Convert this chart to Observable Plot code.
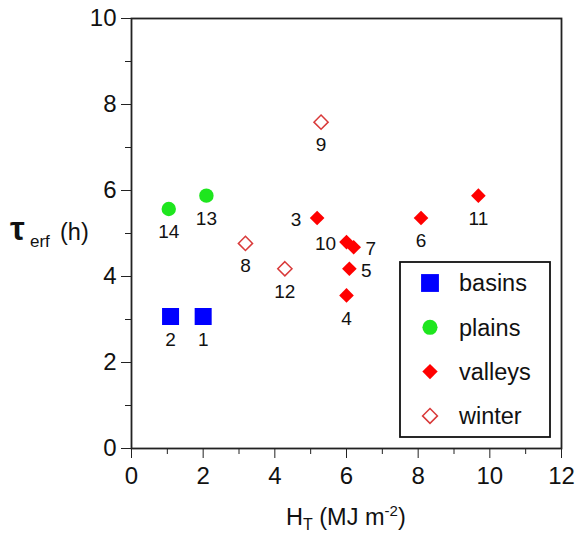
<!DOCTYPE html>
<html><head><meta charset="utf-8">
<script src="https://cdn.jsdelivr.net/npm/d3@7"></script>
<script src="https://cdn.jsdelivr.net/npm/@observablehq/plot@0.6"></script>
<style>body{margin:0;background:#fff} #chart{width:576px;height:536px}</style>
</head><body><div id="chart"></div>
<script>
// ---- data ----
const ids    = ["1","2","3","4","5","6","7","8","9","10","11","12","13","14"];
const groups = ["basins","basins","valleys","valleys","valleys","valleys","valleys","winter","winter","valleys","valleys","winter","plains","plains"];
const hT     = [2.0, 1.09, 5.18, 6.0, 6.08, 8.08, 6.2, 3.18, 5.29, 6.0, 9.68, 4.28, 2.09, 1.04];
const tau    = [3.07, 3.07, 5.36, 3.56, 4.18, 5.36, 4.68, 4.77, 7.59, 4.8, 5.88, 4.18, 5.88, 5.57];
const labelSide = ["below","below","left","below","right","below","right","below","below","left","below","below","below","below"];
const categories = ["basins","plains","valleys","winter"];
const xTicks = [0,2,4,6,8,10,12];
const xMinor = [1,3,5,7,9,11];
const yTicks = [0,2,4,6,8,10];
const yMinor = [1,3,5,7,9];

const data = ids.map((id,i)=>({id, group:groups[i], x:hT[i], y:tau[i], side:labelSide[i]}));

const FONT = "'Liberation Sans', Arial, Helvetica, sans-serif";
const styleOf = {
  basins:  {symbol:"square",   r:9.6, fill:"#0000ff", stroke:"none", strokeWidth:0},
  plains:  {symbol:"circle",   r:7.2, fill:"#1ee61e", stroke:"none", strokeWidth:0},
  valleys: {symbol:"diamond2", r:6.6, fill:"#ff0000", stroke:"none", strokeWidth:0},
  winter:  {symbol:"diamond2", r:6.4, fill:"#ffffff", stroke:"#d93a3a", strokeWidth:1.5}
};

const dotMarks = categories.map(c => Plot.dot(data.filter(d=>d.group===c), {
  x:"x", y:"y", ...styleOf[c]
}));

const labelStyle = {text:"id", fontSize:19, fill:"#111"};
const plot = Plot.plot({
  width:576, height:536,
  marginLeft:131, marginRight:15, marginTop:18, marginBottom:88,
  style:{fontFamily:FONT, fontSize:"24px", color:"#111", background:"#fff"},
  x:{domain:[0,12]},
  y:{domain:[0,10]},
  marks:[
    Plot.axisX({ticks:xTicks, tickSize:10, tickPadding:8, stroke:"#222", label:null, fontSize:24}),
    Plot.axisX({ticks:xMinor, tickSize:6, tickFormat:()=>"", stroke:"#222", label:null}),
    Plot.axisY({ticks:yTicks, tickSize:10, tickPadding:5, stroke:"#222", label:null, fontSize:24}),
    Plot.axisY({ticks:yMinor, tickSize:6, tickFormat:()=>"", stroke:"#222", label:null}),
    Plot.frame({stroke:"#222", strokeWidth:1.8}),
    ...dotMarks,
    Plot.text(data.filter(d=>d.side==="below"), {x:"x", y:"y", dy:23, ...labelStyle}),
    Plot.text(data.filter(d=>d.side==="left"),  {x:"x", y:"y", dx:-21, dy:2, ...labelStyle}),
    Plot.text(data.filter(d=>d.side==="right"), {x:"x", y:"y", dx:17, dy:2, ...labelStyle})
  ]
});

const svg = d3.select(plot);
// legend
const lg = svg.append("g").attr("font-family", FONT).attr("text-anchor","start");
lg.append("rect").attr("x",400).attr("y",262).attr("width",150).attr("height",175)
  .attr("fill","#fff").attr("stroke","#111").attr("stroke-width",1.8);
const d3sym = {square:d3.symbolSquare, circle:d3.symbolCircle, diamond2:d3.symbolDiamond2};
categories.forEach((c,i)=>{
  const s = styleOf[c];
  const yy = 283 + i*44.3;
  lg.append("path")
    .attr("d", d3.symbol(d3sym[s.symbol], s.r*s.r*Math.PI*1.1)())
    .attr("transform", `translate(430,${yy})`)
    .attr("fill", s.fill).attr("stroke", s.stroke).attr("stroke-width", s.strokeWidth);
  lg.append("text").attr("x",459).attr("y",yy).attr("dy","0.35em")
    .attr("font-size",23.5).attr("fill","#111").attr("text-anchor","start").text(c);
});

// y axis label: τ_erf (h)
const yl = svg.append("text").attr("font-family", FONT).attr("fill","#111").attr("y",240).attr("text-anchor","start");
yl.append("tspan").attr("x",10).attr("font-size",33).attr("font-weight","bold").text("τ");
yl.append("tspan").attr("x",30).attr("dy",7).attr("font-size",17).text("erf");
yl.append("tspan").attr("x",60).attr("dy",-7).attr("font-size",23.5).text("(h)");

// x axis label: H_T (MJ m^-2)
const xl = svg.append("text").attr("font-family", FONT).attr("fill","#111").attr("x",286).attr("y",525).attr("font-size",23.5).attr("text-anchor","start");
xl.append("tspan").text("H");
xl.append("tspan").attr("dy",5).attr("font-size",16).text("T");
xl.append("tspan").attr("dy",-5).text(" (MJ m");
xl.append("tspan").attr("dy",-9).attr("font-size",15).text("-2");
xl.append("tspan").attr("dy",9).text(")");

document.getElementById("chart").appendChild(plot);
</script>
</body></html>
